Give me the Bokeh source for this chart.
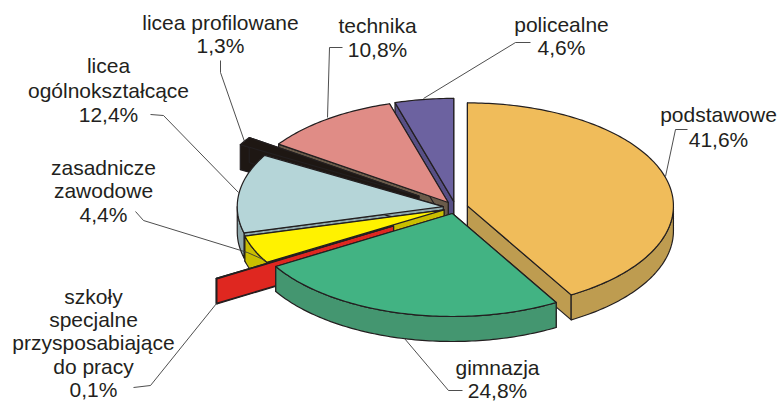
import math
from bokeh.plotting import figure
from bokeh.embed import file_html
from bokeh.resources import INLINE
from bokeh.core.properties import value

categories = ["podstawowe", "gimnazja", "szkoły specjalne przysposabiające do pracy",
              "zasadnicze zawodowe", "licea ogólnokształcące", "licea profilowane",
              "technika", "policealne"]
shares = [41.6, 24.8, 0.1, 4.4, 12.4, 1.3, 10.8, 4.6]
explode = [0.06, 0.06, 0.35, 0.06, 0.06, 0.21, 0.06, 0.06]
top_colors = ["#F0BC5A", "#42B383", "#1E1713", "#FFF200", "#B5D5D8", "#1E1713", "#E08C86", "#6C62A0"]
wall_colors = ["#BE9C50", "#449670", "#DF2720", "#C9BE00", "#8FA9AC", "#1E1713", "#6A5B4A", "#574F85"]
draw_order = [7, 6, 5, 4, 3, 2, 0, 1]

text_lines = [
    (["licea profilowane"], 5, 220, 22, 23.0), (["technika"], 6, 377, 25, 24.0),
    (["policealne"], 7, 561, 24, 23.0), (["podstawowe"], 0, 718, 114, 25.0),
    (["licea", "ogólnokształcące"], 4, 108, 65, 24.5),
    (["zasadnicze", "zawodowe"], 3, 103, 167, 23.3),
    (["szkoły", "specjalne", "przysposabiające", "do pracy"], 2, 93, 296, 23.2),
    (["gimnazja"], 1, 497, 367, 23.2),
]
leaders = [
    [(220, 60), (220, 72), (244, 141)], [(342, 47), (329, 47), (327, 117)],
    [(530, 42), (515, 42), (423, 98)], [(687, 129), (675, 129), (665, 176)],
    [(150, 114), (163, 115), (238, 192)], [(135, 211), (143, 220), (247, 252), (265, 260)],
    [(133, 387), (150, 385), (216, 303)], [(462, 390), (448, 390), (404, 338)],
]

CX, CY, RX, RY, DEPTH = 455, 207, 206, 103, 25
INK = "#231F20"


def rim(ax, ay, deg):
    t = math.radians(deg)
    return ax + RX * math.sin(t), ay - RY * math.cos(t)


def arc(ax, ay, a0, a1, dy=0):
    n = max(2, int(abs(a1 - a0)) + 2)
    pts = [rim(ax, ay, a0 + (a1 - a0) * i / (n - 1)) for i in range(n)]
    return [(x, y + dy) for x, y in pts]


p = figure(width=778, height=401, x_range=(0, 778), y_range=(401, 0), output_backend="svg",
           toolbar_location=None, min_border=0, outline_line_color=None)
p.axis.visible = False
p.grid.visible = False
p.background_fill_color = "white"

starts = []
acc = 0.0
for s in shares:
    starts.append(acc)
    acc += s

xs, ys, fills = [], [], []


def add(points, color):
    xs.append([q[0] for q in points])
    ys.append([q[1] for q in points])
    fills.append(color)


for i in draw_order:
    a0 = starts[i] * 3.6
    a1 = (starts[i] + shares[i]) * 3.6
    mid = math.radians((a0 + a1) / 2)
    ax = CX + explode[i] * RX * math.sin(mid)
    ay = CY - explode[i] * RY * math.cos(mid)
    for ang in (a0, a1):
        e = rim(ax, ay, ang)
        add([(ax, ay), e, (e[0], e[1] + DEPTH), (ax, ay + DEPTH)], wall_colors[i])
    lo, hi = max(a0, 90), min(a1, 270)
    if lo < hi:
        add(arc(ax, ay, lo, hi) + arc(ax, ay, hi, lo, DEPTH), wall_colors[i])
    add([(ax, ay)] + arc(ax, ay, a0, a1), top_colors[i])

p.patches(xs, ys, fill_color=fills, line_color=INK, line_width=1.2, line_join="round")

p.multi_line([[q[0] for q in l] for l in leaders], [[q[1] for q in l] for l in leaders],
             line_color="#3A3A3A", line_width=0.9)

tx, ty, tt = [], [], []
for lines, idx, x, y, pitch in text_lines:
    pct = f"{shares[idx]:.1f}%".replace(".", ",")
    for k, t in enumerate(lines + [pct]):
        tx.append(x)
        ty.append(y + k * pitch)
        tt.append(t)
p.text(tx, ty, text=tt, text_font=value("Liberation Sans"), text_font_size="21px",
       text_align="center", text_baseline="middle", text_color=INK)

open("out.html", "w").write(file_html(p, INLINE))
